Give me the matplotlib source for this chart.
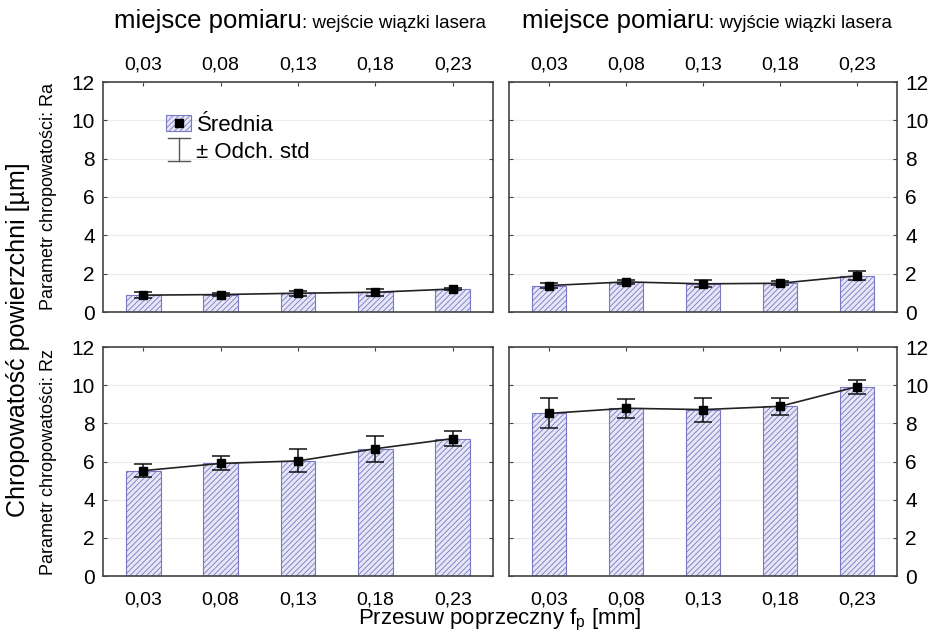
import matplotlib
matplotlib.use("Agg")
import matplotlib.pyplot as plt
import numpy as np
from matplotlib.patches import Patch
from matplotlib.lines import Line2D
from matplotlib.legend_handler import HandlerBase

plt.rcParams['font.family'] = ['Liberation Sans', 'DejaVu Sans']
plt.rcParams['hatch.color'] = '#8a8ac8'
plt.rcParams['hatch.linewidth'] = 0.6

feeds = ["0,03", "0,08", "0,13", "0,18", "0,23"]

# Ra, beam entry / exit
ra_in_mean = [0.88, 0.91, 0.98, 1.03, 1.20]
ra_in_std = [0.14, 0.10, 0.14, 0.17, 0.07]
ra_out_mean = [1.38, 1.57, 1.47, 1.50, 1.89]
ra_out_std = [0.15, 0.11, 0.18, 0.10, 0.24]

# Rz, beam entry / exit
rz_in_mean = [5.52, 5.90, 6.03, 6.67, 7.20]
rz_in_std = [0.33, 0.37, 0.60, 0.68, 0.38]
rz_out_mean = [8.52, 8.79, 8.72, 8.89, 9.92]
rz_out_std = [0.79, 0.49, 0.63, 0.46, 0.36]

fig = plt.figure(figsize=(9.31, 6.38), dpi=100)
W, H = 931, 638

def make_ax(x0, x1, y0, y1):
    return fig.add_axes([x0 / W, 1 - y1 / H, (x1 - x0) / W, (y1 - y0) / H])

ax_tl = make_ax(103, 493, 82, 312)
ax_tr = make_ax(509, 897, 82, 312)
ax_bl = make_ax(103, 493, 347, 576)
ax_br = make_ax(509, 897, 347, 576)

x = np.arange(len(feeds))
bar_face = '#e6e6f7'
bar_edge = '#7878c4'

def draw(ax, means, stds, top_row, right_side):
    ax.bar(x, means, width=0.45, color=bar_face, edgecolor=bar_edge,
           linewidth=0.8, hatch='//////', zorder=2)
    ax.plot(x, means, color='#222222', lw=1.2, zorder=3)
    ax.errorbar(x, means, yerr=stds, fmt='s', color='black', ms=5.5,
                ecolor='#111111', elinewidth=1.1, capsize=6.5, capthick=1.1,
                zorder=4)
    ax.set_xlim(-0.52, 4.52)
    ax.set_ylim(0, 12)
    ax.set_yticks(range(0, 13, 2))
    ax.set_xticks(x)
    ax.set_xticklabels(feeds)
    ax.grid(axis='y', color='#ececec', lw=0.8, zorder=0)
    ax.set_axisbelow(True)
    for s in ax.spines.values():
        s.set_color('#444444')
        s.set_linewidth(1.2)
    ax.tick_params(axis='both', direction='in', length=3, width=0.8,
                   color='#444444', top=True, right=True)
    ax.tick_params(axis='x', labelsize=14, pad=6 if top_row else 11,
                   labeltop=top_row, labelbottom=not top_row)
    ax.tick_params(axis='y', labelsize=15, pad=6,
                   labelleft=not right_side, labelright=right_side)

draw(ax_tl, ra_in_mean, ra_in_std, True, False)
draw(ax_tr, ra_out_mean, ra_out_std, True, True)
draw(ax_bl, rz_in_mean, rz_in_std, False, False)
draw(ax_br, rz_out_mean, rz_out_std, False, True)

# Column headings: large prefix, smaller location name
def heading(xc, tail):
    t1 = fig.text(0, 0, "miejsce pomiaru", fontsize=18.5)
    t2 = fig.text(0, 0, ": " + tail, fontsize=13.5)
    fig.canvas.draw()
    r = fig.canvas.get_renderer()
    w1 = t1.get_window_extent(r).width
    w2 = t2.get_window_extent(r).width
    start = xc - (w1 + w2) / 2
    t1.set_position((start / W, 1 - 28 / H))
    t2.set_position(((start + w1) / W, 1 - 28 / H))

heading(300, "wejście wiązki lasera")
heading(707, "wyjście wiązki lasera")

# Axis titles
fig.text(18 / W, 1 - 340 / H, "Chropowatość powierzchni [µm]", rotation=90,
         fontsize=18, ha='center', va='center')
fig.text(49 / W, 1 - 197 / H, "Parametr chropowatości: Ra", rotation=90,
         fontsize=13, ha='center', va='center')
fig.text(49 / W, 1 - 462 / H, "Parametr chropowatości: Rz", rotation=90,
         fontsize=13, ha='center', va='center')
fig.text(500 / W, 1 - 620 / H, r"Przesuw poprzeczny f$_\mathregular{p}$ [mm]",
         fontsize=16, ha='center', va='center')


class StdHandler(HandlerBase):
    """Legend key drawn as a capped vertical bar."""
    def create_artists(self, legend, orig_handle, xdescent, ydescent,
                       width, height, fontsize, trans):
        xc = width / 2 - xdescent
        y0 = -ydescent - 0.25 * height
        y1 = height - ydescent + 0.25 * height
        hw = width * 0.45
        kw = dict(color='#555555', lw=1.0, transform=trans)
        return [Line2D([xc, xc], [y0, y1], **kw),
                Line2D([xc - hw, xc + hw], [y0, y0], **kw),
                Line2D([xc - hw, xc + hw], [y1, y1], **kw)]


mean_handle = (Patch(facecolor=bar_face, edgecolor=bar_edge, hatch='//////', lw=0.8),
               Line2D([], [], marker='s', color='black', ls='none', ms=5.5))
std_handle = Line2D([], [])
ax_tl.legend([mean_handle, std_handle], ["Średnia", "± Odch. std"],
             handler_map={std_handle: StdHandler()},
             loc='upper left', bbox_to_anchor=(0.14, 0.895), frameon=False,
             fontsize=16, handlelength=1.1, handletextpad=0.25,
             labelspacing=0.25, borderaxespad=0)

fig.savefig("out.png", dpi=100)
